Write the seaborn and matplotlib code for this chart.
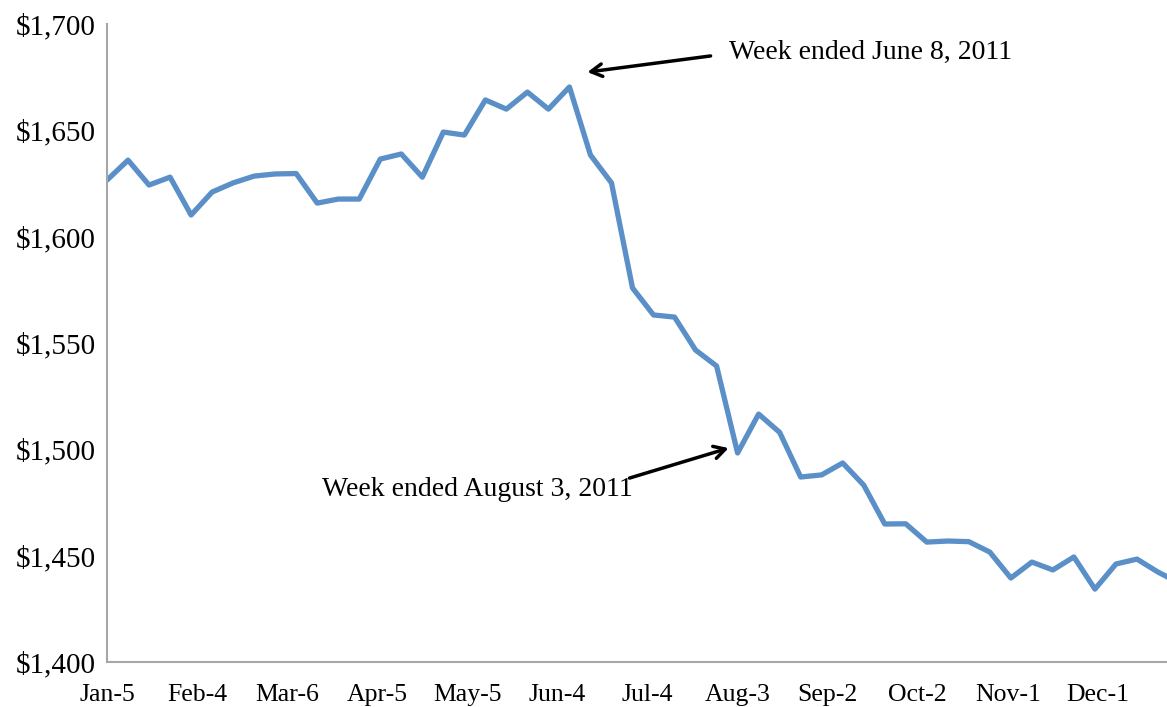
import pandas as pd
import matplotlib
matplotlib.use("Agg")
import matplotlib.pyplot as plt
import seaborn as sns

# Weekly values (week ending Wednesday), 2011
start = "2011-01-05"
values = [1626.6, 1636.0, 1624.3, 1628.0, 1610.2, 1621.0, 1625.3, 1628.5, 1629.5, 1629.7,
          1615.8, 1617.7, 1617.7, 1636.5, 1638.9, 1628.0, 1649.2, 1647.8, 1664.3, 1660.0,
          1668.0, 1660.0, 1670.4, 1638.4, 1625.3, 1575.9, 1563.2, 1562.2, 1546.7, 1539.2,
          1498.3, 1516.6, 1508.0, 1487.0, 1488.0, 1493.6, 1483.2, 1464.9, 1465.0, 1456.4,
          1456.9, 1456.6, 1451.7, 1439.5, 1447.0, 1443.3, 1449.4, 1434.3, 1446.1, 1448.4,
          1442.3, 1437.2]
tick_dates = ["2011-01-05", "2011-02-04", "2011-03-06", "2011-04-05", "2011-05-05", "2011-06-04",
              "2011-07-04", "2011-08-03", "2011-09-02", "2011-10-02", "2011-11-01", "2011-12-01"]
tick_labels = ["Jan-5", "Feb-4", "Mar-6", "Apr-5", "May-5", "Jun-4",
               "Jul-4", "Aug-3", "Sep-2", "Oct-2", "Nov-1", "Dec-1"]
y_ticks = [1400, 1450, 1500, 1550, 1600, 1650, 1700]

df = pd.DataFrame({"week": pd.date_range(start, periods=len(values), freq="7D"), "value": values})

sns.set_style("white")
plt.rcParams["font.family"] = ["Liberation Serif", "DejaVu Serif"]

fig = plt.figure(figsize=(11.67, 7.07), dpi=100)
ax = fig.add_axes([0.0917, 0.0636, 0.9083, 0.9024])

sns.lineplot(data=df, x="week", y="value", color="#5B8FC7", linewidth=3.8, ax=ax)

ax.set_xlim(pd.Timestamp(start), pd.Timestamp(start) + pd.Timedelta(days=353))
ax.set_ylim(1400, 1700)
ax.set_xticks(pd.to_datetime(tick_dates))
ax.set_xticklabels(tick_labels)
ax.set_yticks(y_ticks)
ax.set_yticklabels([f"${v:,}" for v in y_ticks])
ax.set_xlabel("")
ax.set_ylabel("")

for side in ["top", "right"]:
    ax.spines[side].set_visible(False)
for side in ["left", "bottom"]:
    ax.spines[side].set_color("#A6A6A6")
    ax.spines[side].set_linewidth(1.5)
ax.tick_params(axis="both", which="both", direction="out", length=5, width=1.5,
               color="#A6A6A6", labelcolor="black")
ax.tick_params(axis="y", labelsize=21, pad=3)
ax.tick_params(axis="x", labelsize=18.5, pad=11)

# Annotations
arrow = dict(arrowstyle="->,head_length=0.8,head_width=0.45", color="black", lw=2.5,
             shrinkA=0, shrinkB=0)
ax.annotate("", xy=(pd.Timestamp("2011-06-14"), 1677.4),
            xytext=(pd.Timestamp("2011-07-25"), 1685.0), arrowprops=arrow)
ax.text(pd.Timestamp("2011-07-31"), 1686.8, "Week ended June 8, 2011",
        fontsize=20, va="center", ha="left", color="black")
ax.annotate("", xy=(pd.Timestamp("2011-07-31"), 1500.6),
            xytext=(pd.Timestamp("2011-06-28"), 1486.5), arrowprops=arrow)
ax.text(pd.Timestamp("2011-06-29"), 1480.9, "Week ended August 3, 2011",
        fontsize=20, va="center", ha="right", color="black")

fig.savefig("out.png", dpi=100)
